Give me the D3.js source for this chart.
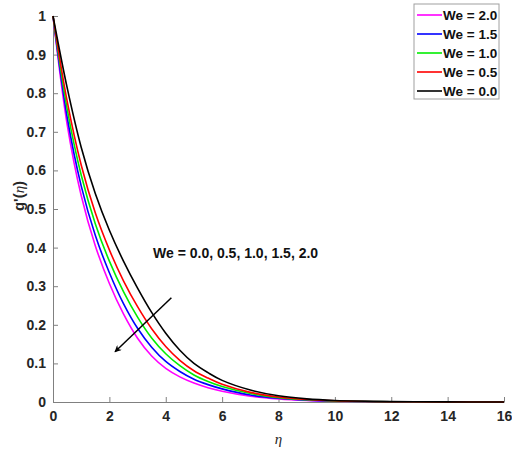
<!DOCTYPE html>
<html>
<head>
<meta charset="utf-8">
<script src="https://cdn.jsdelivr.net/npm/d3@7"></script>
<style>
  body { margin: 0; background: #fff; }
  svg { display: block; font-family: "Liberation Sans", Arial, sans-serif; }
  .axis text { font-size: 14px; font-weight: bold; fill: #262626; }
  .axis path, .axis line { stroke: #808080; }
</style>
</head>
<body>
<div class="container"></div>
<script>
var eta = [0, 0.5, 1, 1.5, 2, 2.5, 3, 3.5, 4, 4.5, 5, 5.5, 6, 7, 8, 9, 10, 12, 14, 16];
var we20 = [1, 0.72, 0.535, 0.405, 0.307, 0.228, 0.165, 0.119, 0.087, 0.065, 0.049, 0.037, 0.028, 0.015, 0.008, 0.004, 0.002, 0.0005, 0.0001, 0];
var we15 = [1, 0.739, 0.56, 0.432, 0.335, 0.255, 0.191, 0.142, 0.105, 0.079, 0.059, 0.045, 0.034, 0.018, 0.0096, 0.0048, 0.0024, 0.0006, 0.0001, 0];
var we10 = [1, 0.76, 0.588, 0.462, 0.365, 0.286, 0.22, 0.166, 0.125, 0.094, 0.07, 0.053, 0.04, 0.022, 0.011, 0.0057, 0.0028, 0.0007, 0.0001, 0];
var we05 = [1, 0.78, 0.614, 0.49, 0.394, 0.314, 0.247, 0.19, 0.144, 0.108, 0.081, 0.062, 0.046, 0.025, 0.013, 0.0065, 0.0033, 0.0008, 0.0002, 0];
var we00 = [1, 0.815, 0.66, 0.54, 0.445, 0.365, 0.295, 0.232, 0.178, 0.134, 0.1, 0.076, 0.056, 0.031, 0.016, 0.008, 0.004, 0.001, 0.0002, 0];

var seriesLabels = ["We = 2.0", "We = 1.5", "We = 1.0", "We = 0.5", "We = 0.0"];
var seriesValues = [we20, we15, we10, we05, we00];
var seriesColors = ["#ff00ff", "#0000ff", "#00ee00", "#ff0000", "#000000"];

var xTicks = [0, 2, 4, 6, 8, 10, 12, 14, 16];
var yTicks = [0, 0.1, 0.2, 0.3, 0.4, 0.5, 0.6, 0.7, 0.8, 0.9, 1];

// arrow in data units: tail then head
var arrowFrom = [4.2, 0.27];
var arrowTo = [2.2, 0.13];

var width = 512, height = 457;
var margin = { left: 53, right: 8, top: 16, bottom: 55 };

var svg = d3.select(".container").append("svg")
    .attr("width", width)
    .attr("height", height);

var x = d3.scaleLinear().domain([0, 16]).range([margin.left, width - margin.right]);
var y = d3.scaleLinear().domain([0, 1]).range([height - margin.bottom, margin.top]);

svg.append("defs").append("marker")
    .attr("id", "head")
    .attr("viewBox", "0 0 10 10")
    .attr("refX", 9).attr("refY", 5)
    .attr("markerWidth", 8).attr("markerHeight", 7)
    .attr("markerUnits", "userSpaceOnUse")
    .attr("orient", "auto")
    .append("path")
    .attr("d", "M0,0 L10,5 L0,10 L3,5 z")
    .attr("fill", "#000");

svg.append("g")
    .attr("class", "axis")
    .attr("transform", `translate(0,${y(0)})`)
    .call(d3.axisBottom(x).tickValues(xTicks).tickSizeInner(-5).tickSizeOuter(0).tickPadding(9).tickFormat(d3.format("d")));

svg.append("g")
    .attr("class", "axis")
    .attr("transform", `translate(${x(0)},0)`)
    .call(d3.axisLeft(y).tickValues(yTicks).tickSizeInner(-5).tickSizeOuter(0).tickPadding(7).tickFormat((d) => d === 0 || d === 1 ? d : d3.format(".1f")(d)));

var line = d3.line()
    .x((d) => x(d[0]))
    .y((d) => y(d[1]))
    .curve(d3.curveCatmullRom.alpha(0.5));

seriesValues.forEach((vals, i) => {
    svg.append("path")
        .datum(eta.map((e, j) => [e, vals[j]]))
        .attr("fill", "none")
        .attr("stroke", seriesColors[i])
        .attr("stroke-width", 1.6)
        .attr("d", line);
});

// arrow + annotation
svg.append("line")
    .attr("x1", x(arrowFrom[0])).attr("y1", y(arrowFrom[1]))
    .attr("x2", x(arrowTo[0])).attr("y2", y(arrowTo[1]))
    .attr("stroke", "#000")
    .attr("stroke-width", 1.5)
    .attr("marker-end", "url(#head)");

svg.append("text")
    .attr("x", 153).attr("y", 258)
    .attr("font-size", 14)
    .attr("font-weight", "bold")
    .attr("fill", "#111")
    .text("We = 0.0, 0.5, 1.0, 1.5, 2.0");

// legend
var legend = svg.append("g").attr("transform", "translate(414,4)");
legend.append("rect")
    .attr("width", 85).attr("height", 95)
    .attr("fill", "#fff")
    .attr("stroke", "#a0a0a0");
seriesLabels.forEach((lab, i) => {
    var ly = 11 + i * 19;
    legend.append("line")
        .attr("x1", 3).attr("x2", 28)
        .attr("y1", ly).attr("y2", ly)
        .attr("stroke", seriesColors[i])
        .attr("stroke-width", 1.6);
    legend.append("text")
        .attr("x", 29).attr("y", ly + 5)
        .attr("font-size", 13.5)
        .attr("font-weight", "bold")
        .attr("fill", "#111")
        .text(lab);
});

// axis titles
svg.append("text")
    .attr("x", x(8)).attr("y", 444)
    .attr("text-anchor", "middle")
    .attr("font-family", "'Liberation Serif', serif")
    .attr("font-style", "italic")
    .attr("font-size", 15)
    .attr("fill", "#262626")
    .text("η");

var yl = svg.append("text")
    .attr("transform", "translate(24,196) rotate(-90)")
    .attr("text-anchor", "middle")
    .attr("font-size", 15)
    .attr("font-weight", "bold")
    .attr("fill", "#262626");
yl.append("tspan").text("g'(");
yl.append("tspan").attr("font-family", "'Liberation Serif', serif").attr("font-style", "italic").attr("font-weight", "normal").text("η");
yl.append("tspan").text(")");
</script>
</body>
</html>
